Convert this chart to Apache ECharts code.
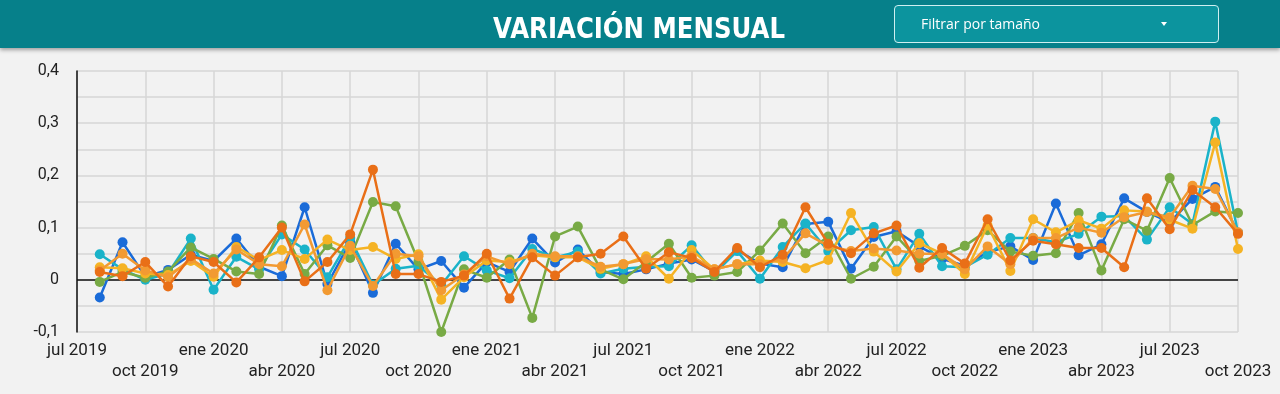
<!DOCTYPE html>
<html>
<head>
<meta charset="utf-8">
<script src="https://cdn.jsdelivr.net/npm/echarts@6/dist/echarts.min.js"></script>
<style>
html,body{margin:0;padding:0;background:#f2f2f2;}
#wrap{position:relative;width:1280px;height:394px;overflow:hidden;background:#f2f2f2;}
#header{position:absolute;left:0;top:0;width:1280px;height:48px;background:#06808a;box-shadow:0 2px 4px rgba(0,0,0,0.35);z-index:2;}
#title{position:absolute;left:0;top:0;}
#dd{position:absolute;left:894px;top:5px;width:325px;height:38px;box-sizing:border-box;border:1.5px solid #cfeff1;border-radius:4px;background:#0c949e;}
#ddtext{position:absolute;left:26px;top:9px;color:#fff;font-family:"Open Sans",sans-serif;font-size:14px;line-height:18px;}
#caret{position:absolute;left:266px;top:16px;width:0;height:0;border-left:3.5px solid transparent;border-right:3.5px solid transparent;border-top:4px solid #fff;}
#chart{position:absolute;left:0;top:0;width:1280px;height:394px;z-index:1;}
</style>
</head>
<body>
<div id="wrap">
  <div id="chart"></div>
  <div id="header">
    <svg id="title" width="1280" height="48"><text x="493" y="38" textLength="292" lengthAdjust="spacingAndGlyphs" fill="#ffffff" font-family="DejaVu Sans, sans-serif" font-weight="bold" font-size="29">VARIACIÓN MENSUAL</text></svg>
    <div id="dd"><div id="ddtext">Filtrar por tamaño</div><div id="caret"></div></div>
  </div>
</div>
<script>
// Months jul 2019 .. oct 2023
const months = ['jul 2019','ago 2019','sep 2019','oct 2019','nov 2019','dic 2019',
'ene 2020','feb 2020','mar 2020','abr 2020','may 2020','jun 2020','jul 2020','ago 2020','sep 2020','oct 2020','nov 2020','dic 2020',
'ene 2021','feb 2021','mar 2021','abr 2021','may 2021','jun 2021','jul 2021','ago 2021','sep 2021','oct 2021','nov 2021','dic 2021',
'ene 2022','feb 2022','mar 2022','abr 2022','may 2022','jun 2022','jul 2022','ago 2022','sep 2022','oct 2022','nov 2022','dic 2022',
'ene 2023','feb 2023','mar 2023','abr 2023','may 2023','jun 2023','jul 2023','ago 2023','sep 2023','oct 2023'];

const yTickLabels = ['-0,1','0','0,1','0,2','0,3','0,4'];

const serieAzul = [null,-0.034,0.072,0.006,0.019,0.048,0.036,0.079,0.025,0.007,0.139,-0.008,0.072,-0.025,0.069,0.020,0.036,-0.015,0.034,0.015,0.079,0.033,0.058,0.015,0.011,0.020,0.031,0.039,0.016,0.057,0.031,0.024,0.107,0.111,0.021,0.082,0.093,0.064,0.040,0.027,0.053,0.064,0.038,0.146,0.047,0.068,0.156,0.130,0.110,0.155,0.178,0.090];
const serieNaranja = [null,0.015,0.007,0.034,-0.013,0.045,0.034,-0.005,0.043,0.100,-0.003,0.034,0.087,0.211,0.011,0.011,-0.004,0.008,0.050,-0.036,0.043,0.008,0.043,0.050,0.083,0.021,0.053,0.042,0.015,0.061,0.024,0.048,0.139,0.069,0.051,0.089,0.104,0.023,0.061,0.031,0.116,0.037,0.075,0.068,0.061,0.061,0.024,0.156,0.097,0.172,0.139,0.088];
const serieVerde = [null,-0.004,0.015,0.004,0.016,0.062,0.040,0.016,0.011,0.104,0.011,0.066,0.042,0.149,0.141,0.035,-0.100,0.020,0.004,0.039,-0.073,0.083,0.102,0.020,0.001,0.034,0.069,0.004,0.008,0.015,0.056,0.108,0.051,0.083,0.002,0.025,0.083,0.036,0.046,0.065,0.095,0.054,0.046,0.051,0.128,0.018,0.116,0.094,0.195,0.105,0.131,0.128];
const serieCian = [null,0.049,0.020,0.000,0.012,0.079,-0.019,0.044,0.020,0.087,0.058,0.005,0.080,-0.010,0.021,0.027,-0.010,0.045,0.018,0.003,0.059,0.043,0.054,0.012,0.021,0.025,0.026,0.066,0.012,0.055,0.002,0.063,0.108,0.055,0.095,0.101,0.020,0.088,0.026,0.024,0.048,0.080,0.080,0.072,0.088,0.121,0.122,0.077,0.139,0.107,0.303,0.090];
const serieAmarilla = [null,0.024,0.022,0.012,0.009,0.036,0.006,0.063,0.038,0.057,0.040,0.077,0.057,0.063,0.040,0.049,-0.038,0.005,0.037,0.034,0.047,0.043,0.043,0.021,0.030,0.045,0.002,0.057,0.020,0.030,0.037,0.034,0.022,0.038,0.128,0.054,0.016,0.070,0.050,0.011,0.104,0.017,0.116,0.091,0.114,0.098,0.133,0.131,0.115,0.098,0.263,0.059];
const serieAmbar = [null,0.018,0.050,0.018,0.005,0.040,0.012,0.058,0.030,0.026,0.106,-0.020,0.065,-0.012,0.050,0.045,-0.020,0.010,0.045,0.030,0.050,0.045,0.045,0.025,0.030,0.040,0.039,0.045,0.020,0.030,0.030,0.040,0.089,0.065,0.055,0.060,0.056,0.050,0.050,0.020,0.064,0.030,0.080,0.080,0.100,0.090,0.120,0.130,0.120,0.180,0.174,0.091];

const seriesDefs = [
  {name:'Serie 1', data: serieAzul, color:'#1a6bd8'},
  {name:'Serie 2', data: serieCian, color:'#1ab3c9'},
  {name:'Serie 3', data: serieVerde, color:'#78aa45'},
  {name:'Serie 4', data: serieAmarilla, color:'#f5b324'},
  {name:'Serie 5', data: serieAmbar, color:'#f29a32'},
  {name:'Serie 6', data: serieNaranja, color:'#e96f17'}
];

const chart = echarts.init(document.getElementById('chart'), null, {renderer:'canvas'});
const labelFont = 'Roboto, "Liberation Sans", sans-serif';

const series = seriesDefs.map((s, k) => ({
  name: s.name,
  type: 'line',
  data: s.data,
  symbol: 'circle',
  symbolSize: 10,
  connectNulls: false,
  lineStyle: {width: 2.5, color: s.color},
  itemStyle: {color: s.color},
  emphasis: {disabled: true},
  z: 3 + k,
  markLine: k === 0 ? {
    silent: true, symbol: 'none', label: {show: false},
    lineStyle: {color: '#111', width: 1.5, type: 'solid'},
    data: [{yAxis: 0}], z: 2
  } : undefined
}));

chart.setOption({
  animation: false,
  backgroundColor: '#f2f2f2',
  grid: {left: 77, right: 42, top: 71, bottom: 62},
  xAxis: {
    type: 'category',
    data: months,
    boundaryGap: false,
    axisLine: {show: false, onZero: false},
    axisTick: {show: false},
    splitLine: {show: true, interval: 2, lineStyle: {color: '#d6d6d6', width: 1.5}},
    axisLabel: {
      interval: 2,
      color: '#222',
      fontFamily: labelFont,
      fontSize: 17,
      lineHeight: 21,
      margin: 8,
      formatter: function (v, idx) {
        const q = Math.round(idx / 3);
        const lbl = months[idx];
        return (q % 2 === 1) ? '\n' + lbl : lbl;
      }
    }
  },
  yAxis: {
    type: 'value',
    min: -0.1,
    max: 0.4,
    interval: 0.05,
    axisLine: {show: true, lineStyle: {color: '#111', width: 1.5}},
    axisTick: {show: false},
    splitLine: {show: true, lineStyle: {color: '#d6d6d6', width: 1.5}},
    axisLabel: {
      color: '#222',
      fontFamily: labelFont,
      fontSize: 16,
      margin: 18,
      formatter: function (v) {
        const n = Math.round(v * 100);
        if (n % 10 !== 0) return '';
        return yTickLabels[(n + 10) / 10];
      }
    }
  },
  series: series
});
</script>
</body>
</html>
